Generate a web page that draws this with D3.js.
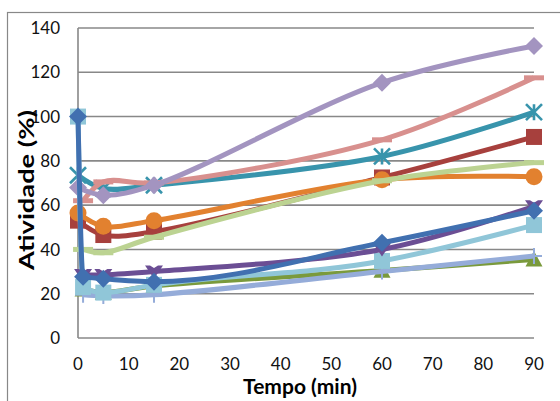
<!DOCTYPE html>
<html>
<head>
<meta charset="utf-8">
<script src="https://cdn.jsdelivr.net/npm/d3@7"></script>
<style>
  html, body { margin: 0; padding: 0; background: #fff; }
  svg { display: block; }
</style>
</head>
<body>
<svg id="chart" width="560" height="401"></svg>
<script>
// ---- data ----
const yTicks = [0, 20, 40, 60, 80, 100, 120, 140];
const xTicks = [0, 10, 20, 30, 40, 50, 60, 70, 80, 90];

const tA = [0, 5, 15, 60, 90];
const tB = [1, 5, 15, 60, 90];
const tC = [0, 1, 5, 15, 60, 90];

const redVals        = [53, 46.5, 48, 72.5, 90.8];
const orangeVals     = [56.5, 50.5, 53, 71.5, 72.8];
const lightGreenVals = [40, 38.5, 45.5, 71, 79.2];
const tealVals       = [73.5, 67.5, 69, 82, 102];
const pinkVals       = [62, 70.5, 70, 89.5, 117.5];
const lavenderVals   = [68, 64.5, 69, 115.3, 131.9];
const oliveVals      = [22, 20.5, 23.5, 30.5, 35.5];
const periwinkleVals = [19.5, 19, 19.5, 30, 37];
const lightBlueVals  = [100, 23, 20.5, 24, 34.8, 51];
const darkPurpleVals = [28.5, 28.5, 30, 40, 59.5];
const blueVals       = [100, 27.7, 26.8, 25.4, 43, 57.5];

// drawing order (bottom to top)
const seriesList = [
  { t: tA, v: redVals,        color: "#A7403D", marker: "square" },
  { t: tA, v: orangeVals,     color: "#E2812F", marker: "circle" },
  { t: tB, v: lightGreenVals, color: "#BCD392", marker: "dash" },
  { t: tA, v: tealVals,       color: "#3894AC", marker: "star" },
  { t: tB, v: pinkVals,       color: "#D8908E", marker: "dash" },
  { t: tA, v: lavenderVals,   color: "#A394C0", marker: "diamond" },
  { t: tB, v: oliveVals,      color: "#7A9A3C", marker: "triangle" },
  { t: tB, v: periwinkleVals, color: "#95ACD9", marker: "plus" },
  { t: tC, v: lightBlueVals,  color: "#90C6D8", marker: "square" },
  { t: tB, v: darkPurpleVals, color: "#6B4E94", marker: "tridown" },
  { t: tC, v: blueVals,       color: "#4170B0", marker: "diamond" }
];

// ---- layout ----
const svg = d3.select("#chart");
const plotLeft = 78, plotRight = 534, plotTop = 28, plotBottom = 338;
const x = d3.scaleLinear().domain([0, 90]).range([plotLeft, plotRight]);
const y = d3.scaleLinear().domain([0, 140]).range([plotBottom, plotTop]);
const gridColor = "#888888";
const font = "Lato, 'Liberation Sans', sans-serif";

// outer chart border
svg.append("rect")
  .attr("x", 7.5).attr("y", 12.5)
  .attr("width", 700).attr("height", 600)
  .attr("fill", "#fff").attr("stroke", gridColor).attr("stroke-width", 1.2);

// gridlines
svg.append("g").selectAll("line").data(yTicks).join("line")
  .attr("x1", plotLeft).attr("x2", plotRight)
  .attr("y1", d => y(d)).attr("y2", d => y(d))
  .attr("stroke", gridColor).attr("stroke-width", 1.6);

// left axis line
svg.append("line")
  .attr("x1", plotLeft).attr("x2", plotLeft)
  .attr("y1", y(140)).attr("y2", y(0))
  .attr("stroke", gridColor).attr("stroke-width", 1.6);

// y tick labels
svg.append("g").selectAll("text").data(yTicks).join("text")
  .attr("x", 60).attr("y", d => y(d))
  .attr("dy", "0.36em")
  .attr("text-anchor", "end")
  .attr("font-family", font).attr("font-size", 17)
  .attr("fill", "#111")
  .text(d => d);

// x tick labels
svg.append("g").selectAll("text").data(xTicks).join("text")
  .attr("x", d => x(d)).attr("y", 370)
  .attr("text-anchor", "middle")
  .attr("font-family", font).attr("font-size", 17)
  .attr("fill", "#111")
  .text(d => d);

// axis titles
svg.append("text")
  .attr("x", 300).attr("y", 394)
  .attr("text-anchor", "middle")
  .attr("font-family", font).attr("font-size", 21).attr("font-weight", "bold")
  .attr("fill", "#000")
  .text("Tempo (min)");

svg.append("text")
  .attr("transform", "translate(34,190) rotate(-90)")
  .attr("text-anchor", "middle")
  .attr("font-family", font).attr("font-size", 20).attr("font-weight", "bold")
  .attr("fill", "#000")
  .attr("textLength", 160).attr("lengthAdjust", "spacingAndGlyphs")
  .text("Atividade (%)");

// ---- series ----
const smoothLine = d3.line()
  .x(d => x(d[0])).y(d => y(d[1]))
  .curve(d3.curveCatmullRom.alpha(0.5));
// series with the steep initial drop: monotone keeps the drop vertical
const dropLine = d3.line()
  .x(d => x(d[0])).y(d => y(d[1]))
  .curve(d3.curveMonotoneX);

function drawMarker(g, px, py, type, color) {
  if (type === "diamond") {
    const s = 9;
    g.append("path").attr("d", `M${px},${py - s}L${px + s},${py}L${px},${py + s}L${px - s},${py}Z`).attr("fill", color);
  } else if (type === "square") {
    const s = 8;
    g.append("rect").attr("x", px - s).attr("y", py - s).attr("width", 2 * s).attr("height", 2 * s).attr("fill", color);
  } else if (type === "circle") {
    g.append("circle").attr("cx", px).attr("cy", py).attr("r", 8.5).attr("fill", color);
  } else if (type === "triangle") {
    const s = 8.5;
    g.append("path").attr("d", `M${px},${py - s}L${px + s},${py + s * 0.85}L${px - s},${py + s * 0.85}Z`).attr("fill", color);
  } else if (type === "tridown") {
    g.append("path").attr("d", `M${px - 9},${py - 6}L${px - 4},${py - 6}L${px},${py - 3.5}L${px + 4},${py - 6}L${px + 9},${py - 6}L${px},${py + 7}Z`).attr("fill", color);
  } else if (type === "dash") {
    g.append("rect").attr("x", px - 10).attr("y", py - 2.5).attr("width", 20).attr("height", 5).attr("fill", color);
  } else if (type === "plus") {
    const s = 8;
    g.append("path").attr("d", `M${px},${py - s}V${py + s}M${px - s},${py}H${px + s}`)
      .attr("stroke", color).attr("stroke-width", 2).attr("fill", "none");
  } else if (type === "star") {
    const s = 8;
    g.append("path").attr("d", `M${px - s},${py - s}L${px + s},${py + s}M${px + s},${py - s}L${px - s},${py + s}M${px},${py - s}V${py + s}`)
      .attr("stroke", color).attr("stroke-width", 2.6).attr("fill", "none");
  }
}

seriesList.forEach(s => {
  const pts = s.t.map((t, i) => [t, s.v[i]]);
  const gen = s.t === tC ? dropLine : smoothLine;
  const g = svg.append("g");
  g.append("path").attr("d", gen(pts))
    .attr("fill", "none").attr("stroke", s.color)
    .attr("stroke-width", 5).attr("stroke-linejoin", "round").attr("stroke-linecap", "butt");
  pts.forEach(p => drawMarker(g, x(p[0]), y(p[1]), s.marker, s.color));
});
</script>
</body>
</html>
